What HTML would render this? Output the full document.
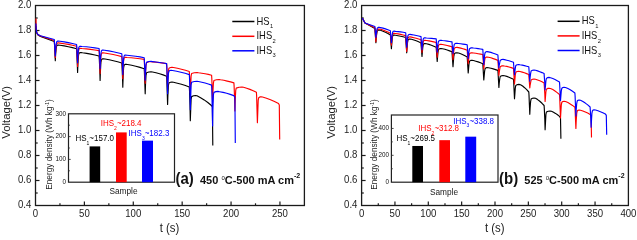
<!DOCTYPE html>
<html><head><meta charset="utf-8"><style>
html,body{margin:0;padding:0;background:#fff;width:637px;height:235px;overflow:hidden;}
svg{display:block;will-change:transform;}
</style></head><body><svg width="637" height="235" viewBox="0 0 637 235" font-family="Liberation Sans, sans-serif"><rect width="637" height="235" fill="#fff"/><rect x="35.5" y="5.5" width="268.9" height="200.0" fill="none" stroke="#1a1a1a" stroke-width="1.3"/><text transform="translate(35.50,217.10) scale(1,1.07)" font-size="9.6" text-anchor="middle" fill="#222">0</text><line x1="59.95" y1="205.5" x2="59.95" y2="203.3" stroke="#1a1a1a" stroke-width="1.2"/><line x1="84.39" y1="205.5" x2="84.39" y2="201.5" stroke="#1a1a1a" stroke-width="1.2"/><text transform="translate(84.39,217.10) scale(1,1.07)" font-size="9.6" text-anchor="middle" fill="#222">50</text><line x1="108.84" y1="205.5" x2="108.84" y2="203.3" stroke="#1a1a1a" stroke-width="1.2"/><line x1="133.28" y1="205.5" x2="133.28" y2="201.5" stroke="#1a1a1a" stroke-width="1.2"/><text transform="translate(133.28,217.10) scale(1,1.07)" font-size="9.6" text-anchor="middle" fill="#222">100</text><line x1="157.73" y1="205.5" x2="157.73" y2="203.3" stroke="#1a1a1a" stroke-width="1.2"/><line x1="182.17" y1="205.5" x2="182.17" y2="201.5" stroke="#1a1a1a" stroke-width="1.2"/><text transform="translate(182.17,217.10) scale(1,1.07)" font-size="9.6" text-anchor="middle" fill="#222">150</text><line x1="206.62" y1="205.5" x2="206.62" y2="203.3" stroke="#1a1a1a" stroke-width="1.2"/><line x1="231.06" y1="205.5" x2="231.06" y2="201.5" stroke="#1a1a1a" stroke-width="1.2"/><text transform="translate(231.06,217.10) scale(1,1.07)" font-size="9.6" text-anchor="middle" fill="#222">200</text><line x1="255.51" y1="205.5" x2="255.51" y2="203.3" stroke="#1a1a1a" stroke-width="1.2"/><line x1="279.95" y1="205.5" x2="279.95" y2="201.5" stroke="#1a1a1a" stroke-width="1.2"/><text transform="translate(279.95,217.10) scale(1,1.07)" font-size="9.6" text-anchor="middle" fill="#222">250</text><text transform="translate(31.30,208.10) scale(1,1.07)" font-size="9.6" text-anchor="end" fill="#222">0.4</text><line x1="35.5" y1="193.00" x2="37.7" y2="193.00" stroke="#1a1a1a" stroke-width="1.2"/><line x1="35.5" y1="180.50" x2="39.5" y2="180.50" stroke="#1a1a1a" stroke-width="1.2"/><text transform="translate(31.30,183.10) scale(1,1.07)" font-size="9.6" text-anchor="end" fill="#222">0.6</text><line x1="35.5" y1="168.00" x2="37.7" y2="168.00" stroke="#1a1a1a" stroke-width="1.2"/><line x1="35.5" y1="155.50" x2="39.5" y2="155.50" stroke="#1a1a1a" stroke-width="1.2"/><text transform="translate(31.30,158.10) scale(1,1.07)" font-size="9.6" text-anchor="end" fill="#222">0.8</text><line x1="35.5" y1="143.00" x2="37.7" y2="143.00" stroke="#1a1a1a" stroke-width="1.2"/><line x1="35.5" y1="130.50" x2="39.5" y2="130.50" stroke="#1a1a1a" stroke-width="1.2"/><text transform="translate(31.30,133.10) scale(1,1.07)" font-size="9.6" text-anchor="end" fill="#222">1.0</text><line x1="35.5" y1="118.00" x2="37.7" y2="118.00" stroke="#1a1a1a" stroke-width="1.2"/><line x1="35.5" y1="105.50" x2="39.5" y2="105.50" stroke="#1a1a1a" stroke-width="1.2"/><text transform="translate(31.30,108.10) scale(1,1.07)" font-size="9.6" text-anchor="end" fill="#222">1.2</text><line x1="35.5" y1="93.00" x2="37.7" y2="93.00" stroke="#1a1a1a" stroke-width="1.2"/><line x1="35.5" y1="80.50" x2="39.5" y2="80.50" stroke="#1a1a1a" stroke-width="1.2"/><text transform="translate(31.30,83.10) scale(1,1.07)" font-size="9.6" text-anchor="end" fill="#222">1.4</text><line x1="35.5" y1="68.00" x2="37.7" y2="68.00" stroke="#1a1a1a" stroke-width="1.2"/><line x1="35.5" y1="55.50" x2="39.5" y2="55.50" stroke="#1a1a1a" stroke-width="1.2"/><text transform="translate(31.30,58.10) scale(1,1.07)" font-size="9.6" text-anchor="end" fill="#222">1.6</text><line x1="35.5" y1="43.00" x2="37.7" y2="43.00" stroke="#1a1a1a" stroke-width="1.2"/><line x1="35.5" y1="30.50" x2="39.5" y2="30.50" stroke="#1a1a1a" stroke-width="1.2"/><text transform="translate(31.30,33.10) scale(1,1.07)" font-size="9.6" text-anchor="end" fill="#222">1.8</text><line x1="35.5" y1="18.00" x2="37.7" y2="18.00" stroke="#1a1a1a" stroke-width="1.2"/><text transform="translate(31.30,8.10) scale(1,1.07)" font-size="9.6" text-anchor="end" fill="#222">2.0</text><g fill="none" stroke-width="1.15" stroke-linejoin="round"><path d="M35.9,26.0 L36.2,29.5 L36.8,33.0 L38.0,35.0 L40.5,36.4 L54.3,41.5 L54.5,44.5 L54.9,52.5 L55.3,60.6 L55.6,54.6 L56.1,48.6 L56.6,46.0 L57.5,45.1 L58.5,45.0 L60.0,45.2 L64.2,45.9 L68.3,46.7 L72.4,47.6 L76.6,48.7 L76.8,51.7 L77.2,62.1 L77.6,72.5 L77.9,64.3 L78.4,56.1 L78.9,53.5 L79.9,52.6 L81.0,52.5 L82.5,52.8 L86.7,53.4 L90.8,54.1 L94.9,55.0 L99.1,56.0 L99.3,59.0 L99.8,69.7 L100.1,80.4 L100.4,71.4 L100.9,62.4 L101.4,59.8 L102.4,58.9 L103.5,58.8 L105.0,59.0 L109.2,59.8 L113.4,60.7 L117.6,61.8 L121.8,63.0 L122.0,66.0 L122.5,76.6 L122.8,87.2 L123.1,77.5 L123.6,67.8 L124.1,65.2 L125.0,64.4 L126.0,64.2 L127.5,64.5 L131.7,65.3 L135.8,66.2 L140.0,67.4 L144.2,68.7 L144.4,71.7 L144.8,82.8 L145.2,93.8 L145.5,84.6 L146.0,75.4 L146.5,72.8 L148.8,72.0 L151.0,71.8 L152.5,72.0 L156.0,72.8 L159.6,73.8 L163.1,74.9 L166.6,76.2 L166.8,79.2 L167.2,91.8 L167.6,104.5 L167.9,95.0 L168.4,85.6 L168.9,83.0 L170.4,82.2 L172.0,82.0 L173.5,82.2 L177.4,83.2 L181.4,84.2 L185.4,85.5 L189.3,87.0 L189.5,90.0 L190.0,105.3 L190.3,120.7 L190.7,109.9 L191.1,99.2 L191.6,96.6 L193.6,95.8 L195.5,95.6 L197.0,95.8 L200.6,97.7 L204.2,99.9 L207.8,102.5 L211.4,105.5 L212.4,107.0 L212.8,145.6" stroke="#000000" /><path d="M36.0,18.5 L36.2,29.5 L36.8,32.8 L38.0,34.7 L40.5,36.0 L54.3,40.5 L54.5,43.5 L54.9,50.6 L55.3,57.7 L55.6,52.1 L56.1,46.5 L56.6,43.9 L57.5,43.0 L58.5,42.9 L60.0,43.1 L64.2,43.7 L68.3,44.4 L72.4,45.3 L76.6,46.2 L76.8,49.2 L77.2,57.9 L77.6,66.5 L77.9,59.2 L78.4,51.9 L78.9,49.3 L79.7,48.4 L80.5,48.3 L82.0,48.5 L86.3,48.9 L90.5,49.4 L94.8,50.0 L99.1,50.6 L99.3,53.6 L99.8,63.6 L100.1,73.6 L100.4,65.0 L100.9,56.4 L101.4,53.8 L102.2,52.9 L103.0,52.8 L104.5,53.0 L108.8,53.7 L113.2,54.5 L117.5,55.5 L121.8,56.6 L122.0,59.6 L122.5,69.2 L122.8,78.7 L123.1,69.8 L123.6,60.8 L124.1,58.2 L124.8,57.4 L125.5,57.2 L127.0,57.5 L131.3,57.8 L135.6,58.3 L139.9,58.8 L144.2,59.4 L144.4,62.4 L144.8,72.8 L145.2,83.3 L145.5,74.2 L146.0,65.2 L146.5,62.6 L148.8,61.8 L151.0,61.6 L152.5,61.9 L156.0,62.2 L159.6,62.6 L163.1,63.1 L166.6,63.6 L166.8,66.6 L167.2,77.3 L167.6,88.0 L167.9,79.4 L168.4,70.9 L168.9,68.3 L170.4,67.5 L172.0,67.3 L173.5,67.5 L177.4,68.3 L181.4,69.2 L185.4,70.3 L189.3,71.5 L189.5,74.5 L190.0,83.6 L190.3,92.7 L190.7,84.4 L191.1,76.1 L191.6,73.5 L194.3,72.7 L197.0,72.5 L198.5,72.8 L201.8,73.2 L205.1,73.8 L208.3,74.4 L211.6,75.2 L211.8,78.2 L212.2,90.1 L212.6,102.0 L212.9,92.5 L213.4,83.1 L213.9,80.5 L216.4,79.7 L219.0,79.5 L220.5,79.8 L223.8,80.3 L227.2,81.1 L230.6,81.9 L233.9,82.9 L234.1,85.9 L234.6,98.4 L234.9,110.9 L235.2,100.8 L235.7,90.7 L236.2,88.1 L239.1,87.2 L242.0,87.1 L243.5,87.3 L246.7,88.3 L249.9,89.4 L253.2,90.7 L256.4,92.2 L256.6,95.2 L257.0,109.0 L257.4,122.7 L257.8,111.5 L258.2,100.3 L258.7,97.7 L259.9,96.9 L261.0,96.7 L262.5,97.0 L266.5,98.2 L270.5,99.7 L274.5,101.5 L278.5,103.5 L279.3,105.0 L279.7,139.5" stroke="#ff0000" /><path d="M35.9,23.5 L36.2,29.5 L36.8,32.8 L38.0,34.6 L40.5,35.8 L54.3,39.5 L54.5,42.5 L54.9,49.2 L55.3,56.0 L55.6,50.3 L56.1,44.6 L56.6,42.0 L57.5,41.1 L58.5,41.0 L60.0,41.2 L64.2,41.9 L68.3,42.6 L72.4,43.5 L76.6,44.5 L76.8,47.5 L77.2,55.1 L77.6,62.8 L77.9,56.3 L78.4,49.8 L78.9,47.2 L79.7,46.4 L80.5,46.2 L82.0,46.5 L86.3,46.8 L90.5,47.3 L94.8,47.9 L99.1,48.5 L99.3,51.5 L99.8,60.0 L100.1,68.5 L100.4,61.0 L100.9,53.6 L101.4,51.0 L102.2,50.1 L103.0,50.0 L104.5,50.2 L108.8,50.9 L113.2,51.7 L117.5,52.7 L121.8,53.8 L122.0,56.8 L122.5,65.7 L122.8,74.5 L123.1,66.5 L123.6,58.6 L124.1,56.0 L124.8,55.1 L125.5,55.0 L127.0,55.2 L131.3,55.7 L135.6,56.3 L139.9,56.9 L144.2,57.7 L144.4,60.7 L144.8,70.5 L145.2,80.2 L145.5,72.6 L146.0,65.0 L146.5,62.4 L148.8,61.5 L151.0,61.4 L152.5,61.6 L156.0,62.0 L159.6,62.5 L163.1,63.0 L166.6,63.6 L166.8,66.6 L167.2,80.2 L167.6,93.8 L167.9,83.8 L168.4,73.9 L168.9,71.3 L169.9,70.5 L171.0,70.3 L172.5,70.5 L176.7,71.3 L180.9,72.3 L185.1,73.3 L189.3,74.6 L189.5,77.6 L190.0,93.7 L190.3,109.7 L190.7,97.3 L191.1,84.9 L191.6,82.3 L194.3,81.5 L197.0,81.3 L198.5,81.5 L201.8,82.2 L205.1,83.0 L208.3,84.0 L211.6,85.1 L211.8,88.1 L212.2,107.0 L212.6,126.0 L212.9,110.5 L213.4,95.0 L213.9,92.4 L215.9,91.6 L218.0,91.4 L219.5,91.7 L223.1,92.4 L226.7,93.3 L230.2,94.4 L233.8,95.6 L234.9,97.1 L235.3,143.1" stroke="#0000ff" /></g><line x1="232.3" y1="21.5" x2="254.4" y2="21.5" stroke="#000000" stroke-width="1.5"/><text transform="translate(256.50,24.60) scale(1,1.08)" font-size="9.4" fill="#111">HS<tspan font-size="5.8" dx="0.4" dy="3.3">1</tspan></text><line x1="232.3" y1="36.3" x2="254.4" y2="36.3" stroke="#ff0000" stroke-width="1.5"/><text transform="translate(256.50,39.40) scale(1,1.08)" font-size="9.4" fill="#111">IHS<tspan font-size="5.8" dx="0.4" dy="3.3">2</tspan></text><line x1="232.3" y1="50.8" x2="254.4" y2="50.8" stroke="#0000ff" stroke-width="1.5"/><text transform="translate(256.50,53.90) scale(1,1.08)" font-size="9.4" fill="#111">IHS<tspan font-size="5.8" dx="0.4" dy="3.3">3</tspan></text><rect x="68.5" y="113.8" width="106.0" height="68.39999999999999" fill="#fff" stroke="#222" stroke-width="1.2"/><text transform="translate(66.00,184.00) scale(1,1.07)" font-size="6.3" text-anchor="end" fill="#111">0</text><line x1="68.5" y1="170.80" x2="69.9" y2="170.80" stroke="#333" stroke-width="0.9"/><line x1="68.5" y1="159.40" x2="70.7" y2="159.40" stroke="#333" stroke-width="0.9"/><text transform="translate(66.00,161.20) scale(1,1.07)" font-size="6.3" text-anchor="end" fill="#111">100</text><line x1="68.5" y1="148.00" x2="69.9" y2="148.00" stroke="#333" stroke-width="0.9"/><line x1="68.5" y1="136.60" x2="70.7" y2="136.60" stroke="#333" stroke-width="0.9"/><text transform="translate(66.00,138.40) scale(1,1.07)" font-size="6.3" text-anchor="end" fill="#111">200</text><line x1="68.5" y1="125.20" x2="69.9" y2="125.20" stroke="#333" stroke-width="0.9"/><text transform="translate(66.00,115.60) scale(1,1.07)" font-size="6.3" text-anchor="end" fill="#111">300</text><rect x="89.6" y="146.40" width="10.600000000000009" height="35.80" fill="#000000"/><rect x="116" y="132.40" width="10.700000000000003" height="49.80" fill="#ff0000"/><rect x="142" y="140.64" width="11" height="41.56" fill="#0000ff"/><text transform="translate(75.50,141.20) scale(1,1.07)" font-size="8" fill="#000000">HS<tspan font-size="5" dy="3.2">1</tspan><tspan dy="-3.2">~157.0</tspan></text><text transform="translate(100.80,126.40) scale(1,1.07)" font-size="8" fill="#ff0000">IHS<tspan font-size="5" dy="3.2">2</tspan><tspan dy="-3.2">~218.4</tspan></text><text transform="translate(128.60,136.30) scale(1,1.07)" font-size="8" fill="#0000ff">IHS<tspan font-size="5" dy="3.2">3</tspan><tspan dy="-3.2">~182.3</tspan></text><text transform="translate(52.0,144.5) rotate(-90)" font-size="8.3" text-anchor="middle" fill="#222">Energy density (Wh kg<tspan font-size="5" dy="-3">-1</tspan><tspan dy="3">)</tspan></text><text transform="translate(123.50,194.10) scale(1,1.1)" font-size="8.3" text-anchor="middle" fill="#222">Sample</text><text transform="translate(175.50,183.50) scale(1,1.06)" font-weight="bold" fill="#111"><tspan font-size="15">(a)</tspan><tspan font-size="11" dx="6.2">450 </tspan><tspan font-size="6" font-weight="normal" dy="-3.5">o</tspan><tspan font-size="11" dy="3.5">C-500 mA cm</tspan><tspan font-size="7" dy="-5">-2</tspan></text><text transform="translate(169.50,231.60) scale(1,1.12)" font-size="11.4" text-anchor="middle" fill="#222">t (s)</text><text transform="translate(9.5,112.3) scale(1,1.1) rotate(-90)" font-size="10.3" text-anchor="middle" fill="#222">Voltage(V)</text><rect x="361.6" y="5.5" width="266.79999999999995" height="200.0" fill="none" stroke="#1a1a1a" stroke-width="1.3"/><text transform="translate(361.60,217.10) scale(1,1.07)" font-size="9.6" text-anchor="middle" fill="#222">0</text><line x1="378.28" y1="205.5" x2="378.28" y2="203.3" stroke="#1a1a1a" stroke-width="1.2"/><line x1="394.95" y1="205.5" x2="394.95" y2="201.5" stroke="#1a1a1a" stroke-width="1.2"/><text transform="translate(394.95,217.10) scale(1,1.07)" font-size="9.6" text-anchor="middle" fill="#222">50</text><line x1="411.62" y1="205.5" x2="411.62" y2="203.3" stroke="#1a1a1a" stroke-width="1.2"/><line x1="428.30" y1="205.5" x2="428.30" y2="201.5" stroke="#1a1a1a" stroke-width="1.2"/><text transform="translate(428.30,217.10) scale(1,1.07)" font-size="9.6" text-anchor="middle" fill="#222">100</text><line x1="444.98" y1="205.5" x2="444.98" y2="203.3" stroke="#1a1a1a" stroke-width="1.2"/><line x1="461.65" y1="205.5" x2="461.65" y2="201.5" stroke="#1a1a1a" stroke-width="1.2"/><text transform="translate(461.65,217.10) scale(1,1.07)" font-size="9.6" text-anchor="middle" fill="#222">150</text><line x1="478.32" y1="205.5" x2="478.32" y2="203.3" stroke="#1a1a1a" stroke-width="1.2"/><line x1="495.00" y1="205.5" x2="495.00" y2="201.5" stroke="#1a1a1a" stroke-width="1.2"/><text transform="translate(495.00,217.10) scale(1,1.07)" font-size="9.6" text-anchor="middle" fill="#222">200</text><line x1="511.68" y1="205.5" x2="511.68" y2="203.3" stroke="#1a1a1a" stroke-width="1.2"/><line x1="528.35" y1="205.5" x2="528.35" y2="201.5" stroke="#1a1a1a" stroke-width="1.2"/><text transform="translate(528.35,217.10) scale(1,1.07)" font-size="9.6" text-anchor="middle" fill="#222">250</text><line x1="545.02" y1="205.5" x2="545.02" y2="203.3" stroke="#1a1a1a" stroke-width="1.2"/><line x1="561.70" y1="205.5" x2="561.70" y2="201.5" stroke="#1a1a1a" stroke-width="1.2"/><text transform="translate(561.70,217.10) scale(1,1.07)" font-size="9.6" text-anchor="middle" fill="#222">300</text><line x1="578.38" y1="205.5" x2="578.38" y2="203.3" stroke="#1a1a1a" stroke-width="1.2"/><line x1="595.05" y1="205.5" x2="595.05" y2="201.5" stroke="#1a1a1a" stroke-width="1.2"/><text transform="translate(595.05,217.10) scale(1,1.07)" font-size="9.6" text-anchor="middle" fill="#222">350</text><line x1="611.73" y1="205.5" x2="611.73" y2="203.3" stroke="#1a1a1a" stroke-width="1.2"/><text transform="translate(628.40,217.10) scale(1,1.07)" font-size="9.6" text-anchor="middle" fill="#222">400</text><text transform="translate(357.40,208.10) scale(1,1.07)" font-size="9.6" text-anchor="end" fill="#222">0.4</text><line x1="361.6" y1="193.00" x2="363.8" y2="193.00" stroke="#1a1a1a" stroke-width="1.2"/><line x1="361.6" y1="180.50" x2="365.6" y2="180.50" stroke="#1a1a1a" stroke-width="1.2"/><text transform="translate(357.40,183.10) scale(1,1.07)" font-size="9.6" text-anchor="end" fill="#222">0.6</text><line x1="361.6" y1="168.00" x2="363.8" y2="168.00" stroke="#1a1a1a" stroke-width="1.2"/><line x1="361.6" y1="155.50" x2="365.6" y2="155.50" stroke="#1a1a1a" stroke-width="1.2"/><text transform="translate(357.40,158.10) scale(1,1.07)" font-size="9.6" text-anchor="end" fill="#222">0.8</text><line x1="361.6" y1="143.00" x2="363.8" y2="143.00" stroke="#1a1a1a" stroke-width="1.2"/><line x1="361.6" y1="130.50" x2="365.6" y2="130.50" stroke="#1a1a1a" stroke-width="1.2"/><text transform="translate(357.40,133.10) scale(1,1.07)" font-size="9.6" text-anchor="end" fill="#222">1.0</text><line x1="361.6" y1="118.00" x2="363.8" y2="118.00" stroke="#1a1a1a" stroke-width="1.2"/><line x1="361.6" y1="105.50" x2="365.6" y2="105.50" stroke="#1a1a1a" stroke-width="1.2"/><text transform="translate(357.40,108.10) scale(1,1.07)" font-size="9.6" text-anchor="end" fill="#222">1.2</text><line x1="361.6" y1="93.00" x2="363.8" y2="93.00" stroke="#1a1a1a" stroke-width="1.2"/><line x1="361.6" y1="80.50" x2="365.6" y2="80.50" stroke="#1a1a1a" stroke-width="1.2"/><text transform="translate(357.40,83.10) scale(1,1.07)" font-size="9.6" text-anchor="end" fill="#222">1.4</text><line x1="361.6" y1="68.00" x2="363.8" y2="68.00" stroke="#1a1a1a" stroke-width="1.2"/><line x1="361.6" y1="55.50" x2="365.6" y2="55.50" stroke="#1a1a1a" stroke-width="1.2"/><text transform="translate(357.40,58.10) scale(1,1.07)" font-size="9.6" text-anchor="end" fill="#222">1.6</text><line x1="361.6" y1="43.00" x2="363.8" y2="43.00" stroke="#1a1a1a" stroke-width="1.2"/><line x1="361.6" y1="30.50" x2="365.6" y2="30.50" stroke="#1a1a1a" stroke-width="1.2"/><text transform="translate(357.40,33.10) scale(1,1.07)" font-size="9.6" text-anchor="end" fill="#222">1.8</text><line x1="361.6" y1="18.00" x2="363.8" y2="18.00" stroke="#1a1a1a" stroke-width="1.2"/><text transform="translate(357.40,8.10) scale(1,1.07)" font-size="9.6" text-anchor="end" fill="#222">2.0</text><g fill="none" stroke-width="1.15" stroke-linejoin="round"><path d="M362.3,18.0 L365.0,23.0 L374.9,28.5 L375.1,31.5 L375.5,37.0 L375.9,42.6 L376.2,38.1 L376.7,33.6 L377.2,31.0 L378.1,30.1 L379.0,30.0 L380.5,30.2 L383.0,31.2 L385.4,32.2 L387.9,33.5 L390.4,35.0 L390.6,38.0 L391.0,43.3 L391.4,48.6 L391.8,43.6 L392.2,38.6 L392.7,36.0 L393.4,35.1 L394.0,35.0 L395.5,35.2 L398.1,35.7 L400.6,36.2 L403.1,36.8 L405.7,37.5 L405.9,40.5 L406.3,46.6 L406.7,52.8 L407.1,47.7 L407.5,42.6 L408.0,40.0 L409.0,39.1 L410.0,39.0 L411.5,39.2 L413.9,40.0 L416.2,40.8 L418.6,41.8 L421.0,43.0 L421.2,46.0 L421.6,51.2 L422.0,56.5 L422.4,51.8 L422.8,47.1 L423.3,44.5 L424.1,43.6 L425.0,43.5 L426.5,43.8 L428.9,44.4 L431.4,45.2 L433.8,46.2 L436.2,47.3 L436.4,50.3 L436.8,55.9 L437.2,61.5 L437.6,56.8 L438.0,52.1 L438.5,49.5 L439.8,48.6 L441.0,48.5 L442.5,48.8 L444.9,49.3 L447.2,50.0 L449.6,50.9 L452.0,51.8 L452.2,54.8 L452.6,60.7 L453.0,66.6 L453.4,61.5 L453.8,56.4 L454.3,53.8 L455.6,52.9 L457.0,52.8 L458.5,53.0 L460.7,53.8 L462.9,54.7 L465.0,55.8 L467.2,57.0 L467.4,60.0 L467.8,66.5 L468.2,73.0 L468.6,68.5 L469.0,63.9 L469.5,61.3 L470.8,60.4 L472.0,60.3 L473.5,60.5 L475.8,61.2 L478.1,61.9 L480.5,62.8 L482.8,63.8 L483.0,66.8 L483.4,73.4 L483.8,80.0 L484.2,75.6 L484.6,71.2 L485.1,68.6 L486.1,67.8 L487.0,67.6 L488.5,67.8 L490.9,68.3 L493.2,68.9 L495.5,69.6 L497.9,70.4 L498.1,73.4 L498.5,80.5 L498.9,87.5 L499.2,83.3 L499.7,79.1 L500.2,76.5 L501.6,75.7 L503.0,75.5 L504.5,75.8 L506.8,76.4 L509.0,77.2 L511.2,78.2 L513.5,79.3 L513.7,82.3 L514.1,90.5 L514.5,98.8 L514.9,93.4 L515.3,88.0 L515.8,85.4 L517.4,84.6 L519.0,84.4 L520.5,84.7 L522.6,86.0 L524.6,87.7 L526.7,89.7 L528.8,92.0 L529.0,95.0 L529.4,104.7 L529.8,114.3 L530.1,107.9 L530.6,101.6 L531.1,99.0 L532.5,98.2 L534.0,98.0 L535.5,98.2 L537.6,99.6 L539.8,101.3 L542.0,103.3 L544.1,105.5 L544.3,108.5 L544.8,119.2 L545.1,129.8 L545.5,122.2 L545.9,114.6 L546.4,112.0 L548.2,111.2 L550.0,111.0 L551.5,111.2 L553.5,112.2 L555.5,113.4 L557.5,114.8 L559.5,116.4 L560.5,117.9 L560.9,138.8" stroke="#000000" /><path d="M362.3,18.0 L365.0,23.0 L374.9,27.7 L375.1,30.7 L375.5,36.2 L375.9,41.8 L376.2,37.2 L376.7,32.6 L377.2,30.0 L378.1,29.1 L379.0,29.0 L380.5,29.2 L383.0,30.0 L385.4,31.0 L387.9,32.0 L390.4,33.3 L390.6,36.3 L391.0,40.8 L391.4,45.2 L391.8,41.0 L392.2,36.9 L392.7,34.3 L393.4,33.4 L394.0,33.3 L395.5,33.5 L398.1,33.9 L400.6,34.4 L403.1,35.0 L405.7,35.6 L405.9,38.6 L406.3,45.0 L406.7,51.4 L407.1,46.0 L407.5,40.5 L408.0,37.9 L409.0,37.0 L410.0,36.9 L411.5,37.1 L413.9,37.7 L416.2,38.3 L418.6,39.0 L421.0,39.8 L421.2,42.8 L421.6,47.6 L422.0,52.5 L422.4,48.2 L422.8,43.9 L423.3,41.3 L424.1,40.4 L425.0,40.3 L426.5,40.5 L428.9,40.9 L431.4,41.4 L433.8,41.9 L436.2,42.5 L436.4,45.5 L436.8,51.4 L437.2,57.2 L437.6,52.5 L438.0,47.9 L438.5,45.3 L439.8,44.4 L441.0,44.3 L442.5,44.5 L444.9,45.0 L447.2,45.5 L449.6,46.1 L452.0,46.8 L452.2,49.8 L452.6,54.8 L453.0,59.8 L453.4,55.4 L453.8,51.0 L454.3,48.4 L455.6,47.5 L457.0,47.4 L458.5,47.6 L460.7,48.1 L462.9,48.7 L465.0,49.4 L467.2,50.2 L467.4,53.2 L467.8,58.5 L468.2,63.8 L468.6,60.1 L469.0,56.4 L469.5,53.8 L470.8,52.9 L472.0,52.8 L473.5,53.0 L475.8,53.3 L478.1,53.7 L480.5,54.1 L482.8,54.5 L483.0,57.5 L483.4,63.2 L483.8,69.0 L484.2,64.8 L484.6,60.6 L485.1,58.0 L486.1,57.1 L487.0,57.0 L488.5,57.2 L490.9,57.8 L493.2,58.6 L495.5,59.4 L497.9,60.4 L498.1,63.4 L498.5,69.5 L498.9,75.5 L499.2,72.4 L499.7,69.3 L500.2,66.7 L501.6,65.9 L503.0,65.7 L504.5,66.0 L506.8,66.4 L509.0,67.0 L511.2,67.6 L513.5,68.4 L513.7,71.4 L514.1,77.7 L514.5,84.0 L514.9,79.4 L515.3,74.9 L515.8,72.3 L517.1,71.5 L518.5,71.3 L520.0,71.5 L522.2,72.1 L524.4,72.8 L526.6,73.6 L528.8,74.5 L529.0,77.5 L529.4,82.8 L529.8,88.0 L530.1,85.3 L530.6,82.6 L531.1,80.0 L532.5,79.2 L534.0,79.0 L535.5,79.2 L537.6,80.0 L539.8,80.8 L542.0,81.8 L544.1,83.0 L544.3,86.0 L544.8,93.8 L545.1,101.5 L545.5,96.7 L545.9,91.8 L546.4,89.2 L547.7,88.4 L549.0,88.2 L550.5,88.5 L552.8,89.6 L555.0,91.0 L557.2,92.6 L559.5,94.5 L559.7,97.5 L560.1,107.8 L560.5,118.0 L560.9,111.4 L561.3,104.9 L561.8,102.3 L562.9,101.5 L564.0,101.3 L565.5,101.5 L567.9,102.6 L570.2,103.9 L572.5,105.4 L574.9,107.2 L575.1,110.2 L575.5,119.3 L575.9,128.5 L576.2,121.0 L576.7,113.6 L577.2,111.0 L578.1,110.2 L579.0,110.0 L580.5,110.2 L582.9,111.0 L585.3,112.0 L587.7,113.1 L590.1,114.4 L591.1,115.9 L591.5,137.4" stroke="#ff0000" /><path d="M362.3,18.0 L365.0,23.0 L374.9,26.5 L375.1,29.5 L375.5,33.5 L375.9,37.5 L376.2,34.2 L376.7,30.9 L377.2,28.3 L378.1,27.4 L379.0,27.3 L380.5,27.6 L383.0,28.1 L385.4,28.9 L387.9,29.7 L390.4,30.7 L390.6,33.7 L391.0,38.2 L391.4,42.6 L391.8,38.7 L392.2,34.7 L392.7,32.1 L393.4,31.2 L394.0,31.1 L395.5,31.4 L398.1,31.6 L400.6,31.9 L403.1,32.3 L405.7,32.7 L405.9,35.7 L406.3,41.4 L406.7,47.1 L407.1,42.5 L407.5,38.0 L408.0,35.4 L409.0,34.5 L410.0,34.4 L411.5,34.6 L413.9,35.0 L416.2,35.5 L418.6,36.0 L421.0,36.6 L421.2,39.6 L421.6,44.7 L422.0,49.7 L422.4,45.5 L422.8,41.4 L423.3,38.8 L424.1,37.9 L425.0,37.8 L426.5,38.0 L428.9,38.2 L431.4,38.4 L433.8,38.6 L436.2,38.9 L436.4,41.9 L436.8,47.0 L437.2,52.1 L437.6,48.0 L438.0,43.8 L438.5,41.2 L439.8,40.4 L441.0,40.2 L442.5,40.5 L444.9,40.7 L447.2,41.1 L449.6,41.5 L452.0,41.9 L452.2,44.9 L452.6,49.3 L453.0,53.8 L453.4,50.3 L453.8,46.9 L454.3,44.3 L455.6,43.4 L457.0,43.3 L458.5,43.5 L460.7,43.8 L462.9,44.1 L465.0,44.4 L467.2,44.8 L467.4,47.8 L467.8,53.2 L468.2,58.7 L468.6,55.0 L469.0,51.3 L469.5,48.7 L470.8,47.9 L472.0,47.7 L473.5,48.0 L475.8,48.2 L478.1,48.6 L480.5,49.0 L482.8,49.4 L483.0,52.4 L483.4,58.5 L483.8,64.7 L484.2,60.0 L484.6,55.2 L485.1,52.6 L486.1,51.8 L487.0,51.6 L488.5,51.9 L490.9,52.4 L493.2,53.2 L495.5,54.0 L497.9,55.0 L498.1,58.0 L498.5,63.0 L498.9,67.9 L499.2,65.5 L499.7,63.0 L500.2,60.4 L501.6,59.5 L503.0,59.4 L504.5,59.6 L506.8,60.2 L509.0,60.8 L511.2,61.5 L513.5,62.3 L513.7,65.3 L514.1,70.2 L514.5,75.0 L514.9,71.5 L515.3,68.1 L515.8,65.5 L517.1,64.7 L518.5,64.5 L520.0,64.8 L522.2,65.1 L524.4,65.6 L526.6,66.2 L528.8,66.8 L529.0,69.8 L529.4,75.5 L529.8,81.3 L530.1,77.4 L530.6,73.6 L531.1,71.0 L532.5,70.2 L534.0,70.0 L535.5,70.2 L537.6,70.9 L539.8,71.7 L542.0,72.6 L544.1,73.6 L544.3,76.6 L544.8,83.2 L545.1,89.8 L545.5,85.4 L545.9,81.0 L546.4,78.4 L547.7,77.6 L549.0,77.4 L550.5,77.7 L552.8,78.5 L555.0,79.5 L557.2,80.7 L559.5,82.0 L559.7,85.0 L560.1,92.7 L560.5,100.4 L560.9,95.7 L561.3,90.9 L561.8,88.3 L562.9,87.5 L564.0,87.3 L565.5,87.5 L567.9,88.6 L570.2,89.8 L572.5,91.3 L574.9,93.0 L575.1,96.0 L575.5,106.0 L575.9,116.0 L576.2,109.8 L576.7,103.6 L577.2,101.0 L578.1,100.2 L579.0,100.0 L580.5,100.2 L582.9,101.5 L585.3,103.1 L587.7,104.9 L590.1,107.0 L590.3,110.0 L590.8,118.6 L591.1,127.2 L591.5,120.3 L591.9,113.4 L592.4,110.8 L593.2,110.0 L594.0,109.8 L595.5,110.0 L598.0,110.8 L600.4,111.7 L602.8,112.7 L605.3,113.9 L606.3,115.4 L606.7,134.8" stroke="#0000ff" /></g><line x1="557.6" y1="21.3" x2="579.6" y2="21.3" stroke="#000000" stroke-width="1.5"/><text transform="translate(581.70,24.40) scale(1,1.08)" font-size="9.4" fill="#111">HS<tspan font-size="5.8" dx="0.4" dy="3.3">1</tspan></text><line x1="557.6" y1="35.9" x2="579.6" y2="35.9" stroke="#ff0000" stroke-width="1.5"/><text transform="translate(581.70,39.00) scale(1,1.08)" font-size="9.4" fill="#111">IHS<tspan font-size="5.8" dx="0.4" dy="3.3">2</tspan></text><line x1="557.6" y1="50.5" x2="579.6" y2="50.5" stroke="#0000ff" stroke-width="1.5"/><text transform="translate(581.70,53.60) scale(1,1.08)" font-size="9.4" fill="#111">IHS<tspan font-size="5.8" dx="0.4" dy="3.3">3</tspan></text><rect x="391.4" y="115.0" width="106.60000000000002" height="67.19999999999999" fill="#fff" stroke="#222" stroke-width="1.2"/><text transform="translate(388.90,184.00) scale(1,1.07)" font-size="6.3" text-anchor="end" fill="#111">0</text><line x1="391.4" y1="168.76" x2="392.79999999999995" y2="168.76" stroke="#333" stroke-width="0.9"/><line x1="391.4" y1="155.32" x2="393.59999999999997" y2="155.32" stroke="#333" stroke-width="0.9"/><text transform="translate(388.90,157.12) scale(1,1.07)" font-size="6.3" text-anchor="end" fill="#111">200</text><line x1="391.4" y1="141.88" x2="392.79999999999995" y2="141.88" stroke="#333" stroke-width="0.9"/><line x1="391.4" y1="128.44" x2="393.59999999999997" y2="128.44" stroke="#333" stroke-width="0.9"/><text transform="translate(388.90,130.24) scale(1,1.07)" font-size="6.3" text-anchor="end" fill="#111">400</text><rect x="412.3" y="145.98" width="10.699999999999989" height="36.22" fill="#000000"/><rect x="439.3" y="140.16" width="10.699999999999989" height="42.04" fill="#ff0000"/><rect x="465.3" y="136.67" width="10.899999999999977" height="45.53" fill="#0000ff"/><text transform="translate(396.50,141.30) scale(1,1.07)" font-size="8" fill="#000000">HS<tspan font-size="5" dy="3.2">1</tspan><tspan dy="-3.2">~269.5</tspan></text><text transform="translate(418.30,131.20) scale(1,1.07)" font-size="8" fill="#ff0000">IHS<tspan font-size="5" dy="3.2">2</tspan><tspan dy="-3.2">~312.8</tspan></text><text transform="translate(453.30,123.50) scale(1,1.07)" font-size="8" fill="#0000ff">IHS<tspan font-size="5" dy="3.2">3</tspan><tspan dy="-3.2">~338.8</tspan></text><text transform="translate(376.5,144.5) rotate(-90)" font-size="8.3" text-anchor="middle" fill="#222">Energy density (Wh kg<tspan font-size="5" dy="-3">-1</tspan><tspan dy="3">)</tspan></text><text transform="translate(444.00,195.30) scale(1,1.1)" font-size="8.3" text-anchor="middle" fill="#222">Sample</text><text transform="translate(499.00,183.70) scale(1,1.06)" font-weight="bold" fill="#111"><tspan font-size="15">(b)</tspan><tspan font-size="11" dx="6.2">525 </tspan><tspan font-size="6" font-weight="normal" dy="-3.5">o</tspan><tspan font-size="11" dy="3.5">C-500 mA cm</tspan><tspan font-size="7" dy="-5">-2</tspan></text><text transform="translate(494.70,231.60) scale(1,1.12)" font-size="11.4" text-anchor="middle" fill="#222">t (s)</text><text transform="translate(335.0,112.3) scale(1,1.1) rotate(-90)" font-size="10.3" text-anchor="middle" fill="#222">Voltage(V)</text></svg></body></html>
